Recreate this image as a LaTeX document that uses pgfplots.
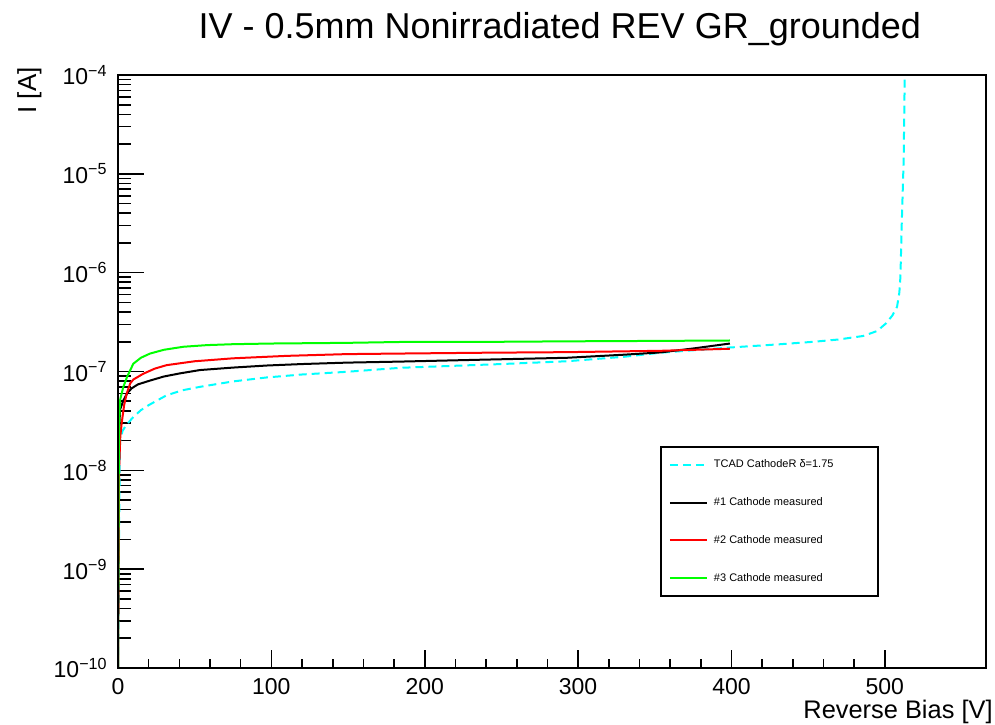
\documentclass[border=0pt]{standalone}
\usepackage{fontspec}
\setmainfont{Liberation Sans}
\usepackage{pgfplots}
\pgfplotsset{compat=1.18}
\definecolor{rcyan}{RGB}{0,255,255}
\definecolor{rgreen}{RGB}{0,255,0}
\definecolor{rred}{RGB}{255,0,0}
\begin{document}
\begin{tikzpicture}
\begin{axis}[name=ax, scale only axis, width=434pt, height=296.5pt,
  xmin=0, xmax=566, ymode=log, ymin=1e-10, ymax=1e-4,
  xtick=\empty,
  ytick={1e-10,1e-9,1e-8,1e-7,1e-6,1e-5,1e-4},
  yticklabels={10\textsuperscript{−10},10\textsuperscript{−9},10\textsuperscript{−8},10\textsuperscript{−7},10\textsuperscript{−6},10\textsuperscript{−5},10\textsuperscript{−4}},
  minor ytick={2e-10,3e-10,4e-10,5e-10,6e-10,7e-10,8e-10,9e-10,
    2e-9,3e-9,4e-9,5e-9,6e-9,7e-9,8e-9,9e-9,
    2e-8,3e-8,4e-8,5e-8,6e-8,7e-8,8e-8,9e-8,
    2e-7,3e-7,4e-7,5e-7,6e-7,7e-7,8e-7,9e-7,
    2e-6,3e-6,4e-6,5e-6,6e-6,7e-6,8e-6,9e-6,
    2e-5,3e-5,4e-5,5e-5,6e-5,7e-5,8e-5,9e-5},
  ytick pos=left, tick align=inside,
  major tick length=13pt, minor tick length=6.5pt,
  tick style={line width=0.8pt, black},
  axis line style={line width=0.8pt},
  yticklabel style={font=\fontsize{11.5}{13}\selectfont, inner sep=0pt, xshift=-5pt},
  ylabel={I [A]},
  ylabel style={at={(rel axis cs:-0.0876,1.0135)}, anchor=south east, inner sep=0pt, font=\fontsize{13}{15}\selectfont},
  legend image code/.code={\draw[#1] (0pt,0pt) -- (18.5pt,0pt);},
  legend style={at={(rel axis cs:0.6244,0.3744)}, anchor=north west, draw=black, line width=1pt,
    inner xsep=4pt, inner ysep=6.5pt, column sep=3pt, row sep=13.85pt,
    nodes={inner sep=0pt, text height=4pt, text depth=1pt},
    font=\fontsize{5.5}{6}\selectfont},
  legend cell align=left,
]
\addplot[no marks, color=rcyan, line width=1pt, dash pattern=on 4pt off 2.5pt] coordinates {
(0,1e-10) (0.5,1e-9) (0.9,5e-9) (1.3,1.95e-8) (3,2.51e-8) (5,2.82e-8) (10,3.47e-8)
(15,4.07e-8) (20,4.57e-8) (31.7,5.75e-8) (42,6.46e-8) (53.5,7.0e-8) (75,7.94e-8) (97,8.71e-8)
(120,9.33e-8) (149,9.93e-8) (184,1.09e-7) (250,1.19e-7) (292.7,1.27e-7) (330,1.41e-7)
(353.6,1.55e-7) (375,1.64e-7) (399,1.75e-7) (430,1.88e-7) (453.6,2.0e-7) (470,2.11e-7)
(486,2.29e-7) (495,2.57e-7) (501,3.09e-7) (505,3.7e-7) (508,4.52e-7) (509.5,6.31e-7)
(510.2,9.12e-7) (511,2.92e-6) (512.3,1.38e-5) (513,9.55e-5) (513.2,1e-4)};
\addlegendentry{\makebox[78pt][l]{TCAD CathodeR δ=1.75}}
\addplot[no marks, color=black, line width=1pt] coordinates {
(0,1e-10) (0.3,1e-9) (0.6,1e-8) (1,3e-8) (1.3,4.1e-8) (3.5,5.1e-8) (6,6.03e-8) (8.9,6.76e-8)
(13,7.41e-8) (20.9,8.1e-8) (30,8.91e-8) (40,9.55e-8) (53.5,1.035e-7) (75,1.096e-7)
(97,1.15e-7) (120,1.19e-7) (149,1.23e-7) (184,1.26e-7) (240,1.32e-7) (292.7,1.377e-7)
(330,1.48e-7) (353.6,1.56e-7) (375,1.71e-7) (399,1.92e-7)};
\addlegendentry{\makebox[78pt][l]{\#1 Cathode measured}}
\addplot[no marks, color=rred, line width=1pt] coordinates {
(0,1e-10) (0.3,1e-9) (0.7,1e-8) (1.5,2.2e-8) (2.4,3.0e-8) (4,4.57e-8) (5.7,6.0e-8) (8,7.6e-8)
(10,8.3e-8) (16.5,9.5e-8) (24,1.07e-7) (31.7,1.16e-7) (50,1.27e-7) (75,1.36e-7)
(110,1.44e-7) (149,1.5e-7) (184,1.52e-7) (240,1.55e-7) (292.7,1.57e-7) (353.6,1.62e-7)
(399,1.70e-7)};
\addlegendentry{\makebox[78pt][l]{\#2 Cathode measured}}
\addplot[no marks, color=rgreen, line width=1pt] coordinates {
(0,1e-10) (0.2,1e-9) (0.5,1e-8) (0.8,3e-8) (1.3,5.1e-8) (3.5,7.0e-8) (6,8.9e-8) (10,1.2e-7)
(15,1.38e-7) (20.9,1.52e-7) (30,1.66e-7) (42.6,1.78e-7) (58,1.85e-7) (75,1.89e-7)
(100,1.92e-7) (149,1.95e-7) (184,1.99e-7) (250,2.0e-7) (292.7,2.02e-7) (350,2.04e-7)
(399,2.06e-7)};
\addlegendentry{\makebox[78pt][l]{\#3 Cathode measured}}
\end{axis}
\begin{axis}[scale only axis, width=434pt, height=296.5pt,
  xmin=0, xmax=566, ymode=log, ymin=1e-10, ymax=1e-4,
  ytick=\empty,
  xtick={0,100,200,300,400,500}, minor x tick num=4,
  xtick pos=bottom, tick align=inside,
  major tick length=9pt, minor tick length=4.5pt,
  tick style={line width=0.8pt, black},
  axis line style={line width=0.8pt},
  xticklabel style={font=\fontsize{11.5}{13}\selectfont, inner sep=0pt, yshift=-5pt},
  /pgf/number format/assume math mode=true,
  xlabel={Reverse Bias [V]},
  xlabel style={at={(rel axis cs:1,0)}, anchor=base east, inner sep=0pt, xshift=3.5pt, yshift=-25pt, font=\fontsize{12.7}{15}\selectfont},
  title={IV - 0.5mm Nonirradiated REV GR\_grounded},
  title style={at={(rel axis cs:0.509,1)}, anchor=base, inner sep=0pt, yshift=12.5pt, font=\fontsize{18}{21}\selectfont},
]
\end{axis}
\pgfresetboundingbox
\path[use as bounding box] ([shift={(-59pt,-28pt)}]ax.south west) rectangle ([shift={(4.5pt,37.5pt)}]ax.north east);
\end{tikzpicture}
\end{document}
